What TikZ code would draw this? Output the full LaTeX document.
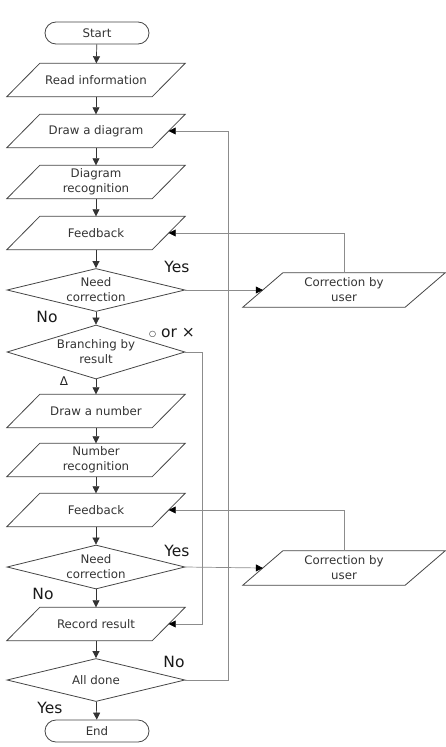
\documentclass[tikz,border=0pt]{standalone}
\usepackage{fontspec}
\setmainfont{DejaVu Sans}
\usetikzlibrary{shapes.geometric,arrows.meta,calc}
\definecolor{shapecol}{HTML}{454545}
\definecolor{textcol}{HTML}{333333}
\definecolor{fbcol}{HTML}{8C8C8C}
\begin{document}
\begin{tikzpicture}[x=1pt,y=-1pt,
  font=\fontsize{11.8}{15}\selectfont,
  every label/.style={text=textcol, align=center, font=\fontsize{11.8}{15}\selectfont},
  shapeline/.style={draw=shapecol, line width=0.8pt, text=textcol},
  para/.style={rectangle, text=textcol, minimum width=145pt, minimum height=33pt, inner sep=1pt, align=center},
  corrbox/.style={para, minimum width=162pt, minimum height=34pt},
  decision/.style={shapeline, diamond, minimum width=178pt, minimum height=43pt, inner sep=0pt},
  terminal/.style={shapeline, rectangle, rounded corners=11pt, minimum width=104pt, minimum height=22pt, inner sep=0pt},
  mainarrow/.style={draw=black!80, line width=0.7pt, -{Triangle[length=7pt,width=7pt]}},
  fbarrow/.style={draw=fbcol, line width=0.7pt, -{Triangle[length=7pt,width=7pt,color=black]}},
  lbl/.style={text=black!90, font=\fontsize{15.5}{18}\selectfont, inner sep=0pt},
  smalllbl/.style={text=black!85, font=\fontsize{12}{14}\selectfont, inner sep=0pt}
]
\useasboundingbox (0,0) rectangle (445,747);

\node[terminal] (start) at (97,33) {Start};
\node[para] (read) at (96,80) {Read information};
\node[para] (drawd) at (96,131) {Draw a diagram};
\node[para] (recog) at (96,182) {Diagram\\recognition};
\node[para] (fb1) at (96,233) {Feedback};
\node[decision, label={center:Need\\correction}] (need1) at (96,290) {};
\node[decision, minimum height=54pt, label={center:Branching by\\result}] (branch) at (96,352) {};
\node[para] (drawn) at (96,411) {Draw a number};
\node[para] (numrec) at (96,460) {Number\\recognition};
\node[para] (fb2) at (96,510) {Feedback};
\node[decision, minimum height=44pt, label={center:Need\\correction}] (need2) at (96,567) {};
\node[para] (record) at (96,624) {Record result};
\node[decision, label={center:All done}] (alldone) at (96,680) {};
\node[terminal] (endn) at (97,731) {End};

\node[corrbox] (corr1) at (344,290) {Correction by\\user};
\node[corrbox] (corr2) at (344,568) {Correction by\\user};

% parallelogram outlines
\foreach \n in {read,drawd,recog,fb1,drawn,numrec,fb2,record}
  \draw[shapeline] ($(\n.south west)+(-16.5pt,0pt)$) -- ($(\n.south east)+(-16.5pt,0pt)$)
     -- ($(\n.north east)+(16.5pt,0pt)$) -- ($(\n.north west)+(16.5pt,0pt)$) -- cycle;
\foreach \n in {corr1,corr2}
  \draw[shapeline] ($(\n.south west)+(-20pt,0pt)$) -- ($(\n.south east)+(-20pt,0pt)$)
     -- ($(\n.north east)+(20pt,0pt)$) -- ($(\n.north west)+(20pt,0pt)$) -- cycle;

\coordinate (loopx) at (228,0);
\coordinate (brx) at (202,0);

\draw[mainarrow] (start) -- (read);
\draw[mainarrow] (read) -- (drawd);
\draw[mainarrow] (drawd) -- (recog);
\draw[mainarrow] (recog) -- (fb1);
\draw[mainarrow] (fb1) -- (need1);
\draw[mainarrow] (need1) -- (branch);
\draw[mainarrow] (branch) -- (drawn);
\draw[mainarrow] (drawn) -- (numrec);
\draw[mainarrow] (numrec) -- (fb2);
\draw[mainarrow] (fb2) -- (need2);
\draw[mainarrow] (need2) -- (record);
\draw[mainarrow] (record) -- (alldone);
\draw[mainarrow] (alldone) -- (endn);

\draw[fbarrow] (need1.east) -- (corr1.west);
\draw[fbarrow] (corr1.north) |- (fb1.east);
\draw[fbarrow] (need2.east) -- (corr2.west);
\draw[fbarrow] (corr2.north) |- (fb2.east);
\draw[fbarrow] (branch.east) -| (brx |- record.east) -- (record.east);
\draw[fbarrow] (alldone.east) -| (loopx |- drawd.east) -- (drawd.east);

\node[lbl] (yes1) at (177,267) {Yes};
\node[lbl] (no1) at (47,317) {No};
\node[lbl] (orx) at (172,333) {\raisebox{1.5pt}{\fontsize{8}{10}\selectfont ○} or ×};
\node[smalllbl] (tri) at (64,381) {Δ};
\node[lbl] (yes2) at (177,551) {Yes};
\node[lbl] (no2) at (43,594) {No};
\node[lbl] (no3) at (174,662) {No};
\node[lbl] (yes3) at (50,708) {Yes};
\end{tikzpicture}
\end{document}
